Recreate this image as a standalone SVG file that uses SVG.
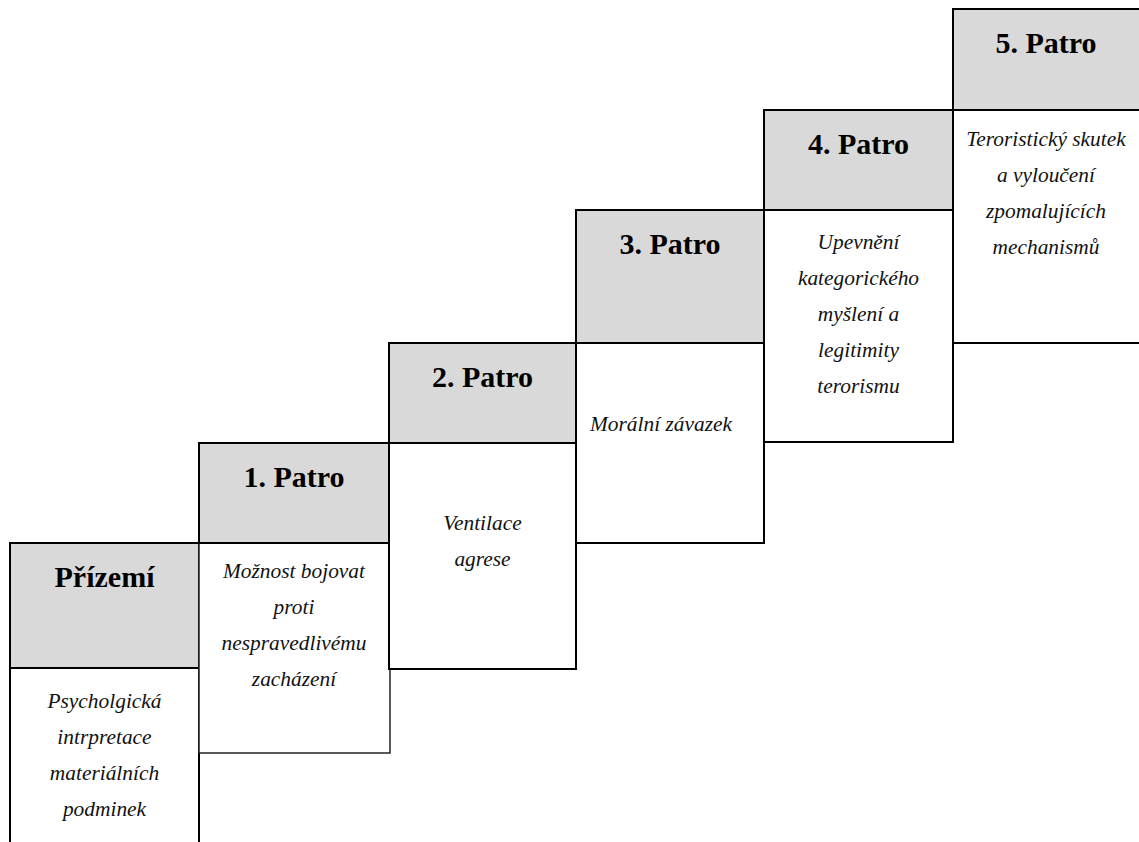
<svg xmlns="http://www.w3.org/2000/svg" width="1139" height="842" viewBox="0 0 1139 842">
<style>
.hd{fill:#d9d9d9;stroke:#000;stroke-width:2}
.bd{fill:#fff;stroke:#000;stroke-width:2}
.bd1{fill:#fff;stroke:#222;stroke-width:1.5}
.t{font-family:"Liberation Serif","Times New Roman",serif;font-weight:bold;font-size:30px;fill:#000;text-anchor:middle}
.b{font-family:"Liberation Serif","Times New Roman",serif;font-style:italic;font-size:21.4px;fill:#111;text-anchor:middle}
</style>
<rect width="1139" height="842" fill="#fff"/>
<g id="prizemi">
<rect class="bd" x="10" y="668" width="189" height="190"/>
<rect class="hd" x="10" y="543" width="189" height="125"/>
<text class="t" x="104.5" y="587">Přízemí</text>
<text class="b" x="104.5" y="708">Psycholgická</text>
<text class="b" x="104.5" y="744">intrpretace</text>
<text class="b" x="104.5" y="780">materiálních</text>
<text class="b" x="104.5" y="816">podminek</text>
</g>
<g id="patro1">
<rect class="bd1" x="199" y="543" width="191" height="210"/>
<rect class="hd" x="199" y="443" width="190" height="100"/>
<text class="t" x="294" y="487">1. Patro</text>
<text class="b" x="294" y="578">Možnost bojovat</text>
<text class="b" x="294" y="614">proti</text>
<text class="b" x="294" y="650">nespravedlivému</text>
<text class="b" x="294" y="686">zacházení</text>
</g>
<g id="patro2">
<rect class="bd" x="389" y="443" width="187" height="226"/>
<rect class="hd" x="389" y="343" width="187" height="100"/>
<text class="t" x="482.5" y="387">2. Patro</text>
<text class="b" x="482.5" y="530">Ventilace</text>
<text class="b" x="482.5" y="566">agrese</text>
</g>
<g id="patro3">
<rect class="bd" x="576" y="343" width="188" height="200"/>
<rect class="hd" x="576" y="210" width="188" height="133"/>
<text class="t" x="670" y="254">3. Patro</text>
<text class="b" x="590" y="431" style="text-anchor:start">Morální závazek</text>
</g>
<g id="patro4">
<rect class="bd" x="764" y="210" width="189" height="232"/>
<rect class="hd" x="764" y="110" width="189" height="100"/>
<text class="t" x="858.5" y="154">4. Patro</text>
<text class="b" x="858.5" y="249">Upevnění</text>
<text class="b" x="858.5" y="285">kategorického</text>
<text class="b" x="858.5" y="321">myšlení a</text>
<text class="b" x="858.5" y="357">legitimity</text>
<text class="b" x="858.5" y="393">terorismu</text>
</g>
<g id="patro5">
<rect class="bd" x="953" y="110" width="190" height="233"/>
<rect class="hd" x="953" y="9" width="190" height="101"/>
<text class="t" x="1046" y="53">5. Patro</text>
<text class="b" x="1046" y="146">Teroristický skutek</text>
<text class="b" x="1046" y="182">a vyloučení</text>
<text class="b" x="1046" y="218">zpomalujících</text>
<text class="b" x="1046" y="254">mechanismů</text>
</g>
<g id="connectors"></g>
</svg>
